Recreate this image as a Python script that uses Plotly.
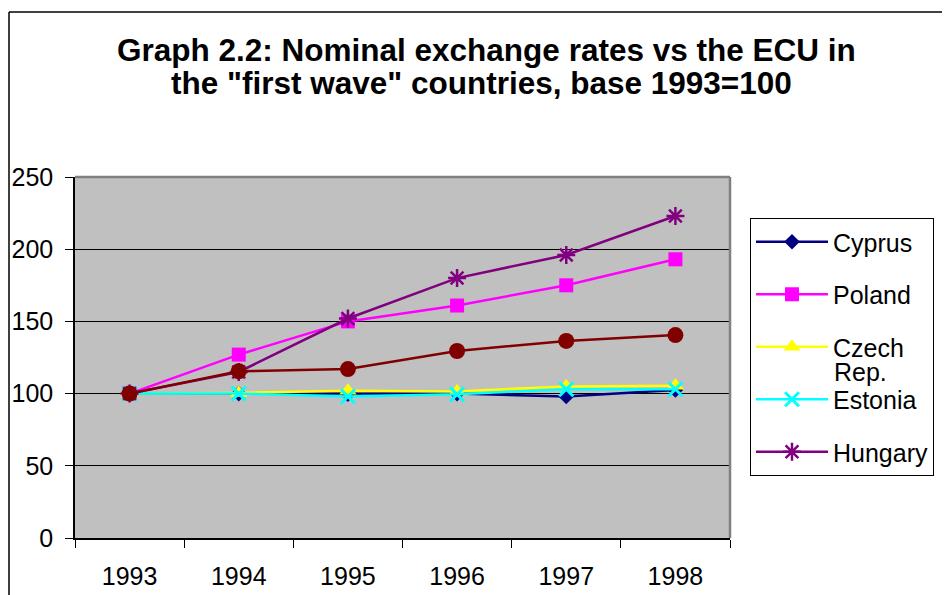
import plotly.graph_objects as go

years = ["1993", "1994", "1995", "1996", "1997", "1998"]
cyprus = [100, 100, 99.5, 100, 98, 102.5]
poland = [100, 127, 150, 161, 175, 193]
czech = [100, 100.5, 102, 101.5, 105, 105.5]
estonia = [100, 100, 98, 99.5, 103, 103]
hungary = [100, 115, 152, 180, 196, 223]
slovenia = [100, 115.5, 117, 129.5, 136.5, 140.5]

FONT = "Liberation Sans, Arial, sans-serif"

series = [
    ("Cyprus", cyprus, "#000080", dict(symbol="diamond", size=12, color="#000080"), True),
    ("Poland", poland, "#FF00FF", dict(symbol="square", size=14, color="#FF00FF"), True),
    ("Czech", czech, "#FFFF00", dict(symbol="triangle-up", size=15, color="#FFFF00"), True),
    ("Estonia", estonia, "#00FFFF", dict(symbol="x-thin-open", size=14, color="#00FFFF",
                                          line=dict(width=3, color="#00FFFF")), True),
    ("Hungary", hungary, "#800080", dict(symbol="asterisk-open", size=15, color="#800080",
                                          line=dict(width=2.5, color="#800080")), True),
    ("Slovenia", slovenia, "#800000", dict(symbol="circle", size=16, color="#800000"), False),
]

fig = go.Figure()
for i, (name, vals, col, mk, show) in enumerate(series):
    fig.add_trace(go.Scatter(
        x=years, y=vals, name=name, mode="lines+markers",
        line=dict(color=col, width=2.5), marker=mk,
        showlegend=show, legendgroup="g%d" % i,
    ))

# page body has an 8px default margin; target positions are in screen pixels
OFF = 8
W, H = 950, 595
L, R, T, B = 75 - OFF, 730 - OFF, 177 - OFF, 538 - OFF
def px(x):
    return (x - OFF - L) / (R - L)
def py(y):
    return (B - (y - OFF)) / (B - T)

fig.update_layout(
    width=W, height=H,
    margin=dict(l=L, r=W - R, t=T, b=H - B, autoexpand=False),
    paper_bgcolor="white", plot_bgcolor="#C0C0C0",
    font=dict(family=FONT, color="black", size=25),
    legend=dict(
        x=px(750), y=py(218), xanchor="left", yanchor="top",
        bgcolor="white", bordercolor="black", borderwidth=1,
        font=dict(family=FONT, size=25, color="black"),
        tracegroupgap=17, itemwidth=72, entrywidth=190,
    ),
    xaxis=dict(
        type="category", range=[-0.5, len(years) - 0.5], tickson="boundaries",
        ticks="outside", ticklen=8,
        tickcolor="black", showline=True, linecolor="black", linewidth=1.5,
        showgrid=False, tickfont=dict(size=25, family=FONT), ticklabelstandoff=15,
        automargin=False,
    ),
    yaxis=dict(
        range=[0, 250], tickvals=[0, 50, 100, 150, 200, 250], ticks="outside",
        ticklen=8, tickcolor="black", showline=True, linecolor="black", linewidth=1.5,
        showgrid=True, gridcolor="black", gridwidth=1, zeroline=False,
        tickfont=dict(size=25, family=FONT), ticklabelstandoff=7, automargin=False,
    ),
    shapes=[
        dict(type="line", xref="paper", yref="paper", x0=0, x1=1, y0=1, y1=1,
             line=dict(color="#808080", width=2.5), layer="above"),
        dict(type="line", xref="paper", yref="paper", x0=1, x1=1, y0=0, y1=1,
             line=dict(color="#808080", width=2.5), layer="above"),
        dict(type="line", xref="paper", yref="paper", x0=px(9), x1=px(9), y0=py(620), y1=py(12),
             line=dict(color="black", width=1.5)),
        dict(type="line", xref="paper", yref="paper", x0=px(9), x1=px(980), y0=py(12), y1=py(12),
             line=dict(color="black", width=1.5)),
    ],
    annotations=[
        dict(text="<b>Graph 2.2: Nominal exchange rates vs the ECU in</b>",
             xref="paper", yref="paper", x=px(486.5), y=py(50), xanchor="center", yanchor="middle",
             showarrow=False, font=dict(family=FONT, size=31.5, color="black")),
        dict(text="<b>the \"first wave\" countries, base 1993=100</b>",
             xref="paper", yref="paper", x=px(482), y=py(83), xanchor="center", yanchor="middle",
             showarrow=False, font=dict(family=FONT, size=31.5, color="black")),
        dict(text="Rep.", xref="paper", yref="paper", x=px(832), y=py(372),
             xanchor="left", yanchor="middle", showarrow=False,
             font=dict(family=FONT, size=25, color="black")),
    ],
)

fig.write_html("out.html")
